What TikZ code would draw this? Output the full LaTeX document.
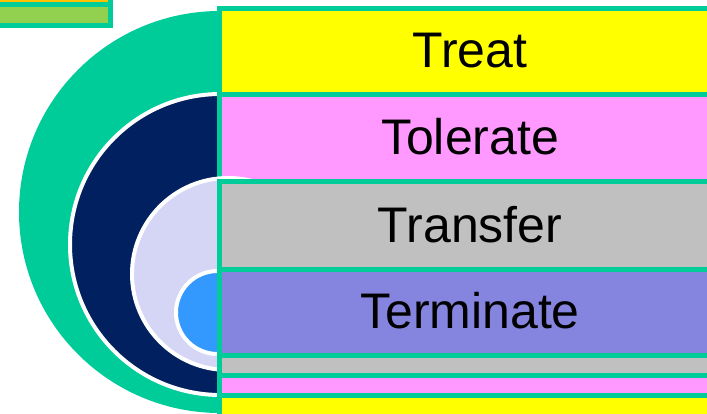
\documentclass[tikz,border=0pt]{standalone}
\usepackage{fontspec}
\setmainfont{Liberation Sans}
\definecolor{tealc}{HTML}{00CC99}
\definecolor{yel}{HTML}{FFFF00}
\definecolor{pnk}{HTML}{FF99FF}
\definecolor{gry}{HTML}{C0C0C0}
\definecolor{prp}{HTML}{8585E0}
\definecolor{navy}{HTML}{00205F}
\definecolor{lav}{HTML}{D5D5F5}
\definecolor{blu}{HTML}{3399FF}
\definecolor{grn}{HTML}{92D050}
\definecolor{orng}{HTML}{FFC000}
\tikzset{
  band/.style={draw=tealc, line width=5pt},
  ring/.style={draw=white, line width=4pt},
  lbl/.style={font=\fontsize{50}{60}\selectfont, text=black, inner sep=0pt}
}
\begin{document}
\begin{tikzpicture}[x=1pt,y=-1pt]
\useasboundingbox (0,0) rectangle (707,414);
\clip (0,0) rectangle (707,414);
% small top-left bars
\path[band, fill=orng] (-10,-30) rectangle (110.5,4.5);
\path[band, fill=grn] (-10,4.5) rectangle (110.5,26);
% circles
\fill[tealc] (220,212) circle (201);
\path[ring, fill=navy] (220.5,244.5) circle (150.5);
% bands
\path[band, fill=yel] (219.5,8.5) rectangle (730,94.5);
\path[band, fill=pnk] (219.5,94.5) rectangle (730,181.5);
\path[ring, fill=lav] (228,274) circle (96);
\path[ring, fill=blu] (217.5,312.5) circle (41.5);
\path[band, fill=gry] (219.5,181.5) rectangle (730,269.5);
\path[band, fill=prp] (219.5,269.5) rectangle (730,355);
\path[band, fill=gry] (219.5,355) rectangle (730,375.5);
\path[band, fill=pnk] (219.5,375.5) rectangle (730,395.5);
\path[band, fill=yel] (219.5,395.5) rectangle (730,440);
% labels
\node[lbl] (treat) at (470,50.5) {Treat};
\node[lbl] (tolerate) at (470,137) {Tolerate};
\node[lbl] (transfer) at (470,224.5) {Transfer};
\node[lbl] (terminate) at (470,311) {Terminate};
\end{tikzpicture}
\end{document}
